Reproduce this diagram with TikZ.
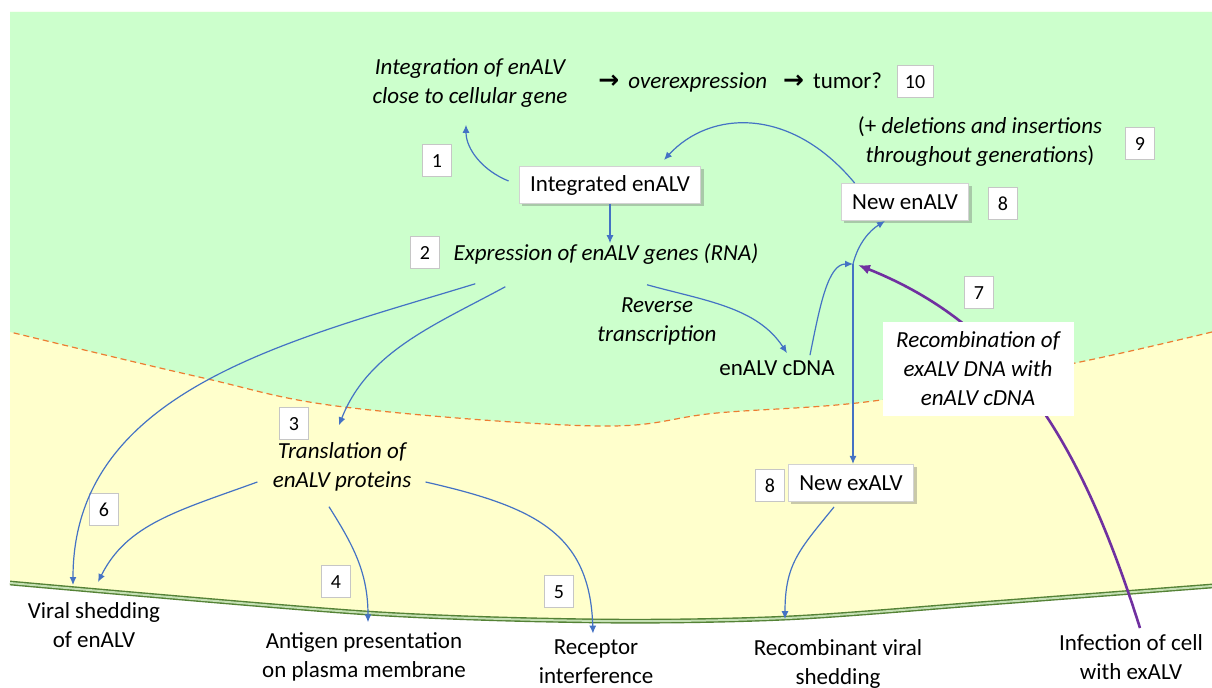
\documentclass[tikz,border=0pt]{standalone}
\usepackage{fontspec}
\setmainfont{Carlito}
\newfontfamily\dej{DejaVu Sans}
\usetikzlibrary{arrows.meta,shadows}
\definecolor{bgGreen}{RGB}{204,255,204}
\definecolor{bgYellow}{RGB}{255,255,204}
\definecolor{arrBlue}{RGB}{68,114,196}
\definecolor{dashOr}{RGB}{237,125,49}
\definecolor{memDark}{RGB}{84,130,53}
\definecolor{memLight}{RGB}{197,224,180}
\definecolor{purp}{RGB}{112,48,160}
\begin{document}
\begin{tikzpicture}[x=0.5pt,y=-0.5pt,
  txt/.style={inner sep=0pt, align=center, font=\fontsize{11.5}{14.5}\selectfont},
  itxt/.style={inner sep=0pt, align=center, font=\fontsize{11.5}{14.5}\selectfont\itshape},
  numbox/.style={draw=gray!45, fill=white, line width=0.5pt, minimum width=14.5pt, minimum height=16pt, inner sep=0pt, font=\fontsize{10}{12}\selectfont},
  mainbox/.style={draw=gray!35, fill=white, line width=0.5pt, minimum height=18.5pt, inner xsep=5.5pt, inner ysep=0pt, font=\fontsize{11.5}{14.5}\selectfont, drop shadow={shadow xshift=1.5pt, shadow yshift=-1.5pt, opacity=0.35, fill=black!60}},
  arr/.style={draw=arrBlue, line width=0.6pt, -{Latex[length=4pt,width=3.5pt]}},
]
\useasboundingbox (0,0) rectangle (1212,688);
% backgrounds
\fill[bgYellow] (10,12) -- (1212,12) -- plot[smooth] coordinates {(1212,586) (990,603) (787,618) (600,621) (367,613) (10,583)} -- cycle;
\fill[bgGreen] (10,12) -- (1212,12) -- plot[smooth, tension=0.6] coordinates {(1212,332) (1080,362) (881,400) (717,413) (597,426) (344,407) (199,377) (10,332)} -- cycle;
\draw[dashOr, line width=0.6pt, dash pattern=on 3pt off 2pt] plot[smooth, tension=0.6] coordinates {(1212,332) (1080,362) (881,400) (717,413) (597,426) (344,407) (199,377) (10,332)};
\draw[memDark, line width=0.7pt, double=memLight, double distance=1pt] plot[smooth] coordinates {(10,583) (367,613) (600,621) (787,618) (990,603) (1212,586)};

% nodes
\node[itxt] (intg) at (470,83) {Integration of enALV\\close to cellular gene};
\node[txt, anchor=west] (over) at (598,82) {{\dej\bfseries\fontsize{12.5}{14}\selectfont →}\hspace{4.5pt}\textit{overexpression}\hspace{8pt}{\dej\bfseries\fontsize{12.5}{14}\selectfont →}\hspace{4.5pt}tumor?};
\node[numbox, minimum width=18pt] (n10) at (915,82) {10};
\node[txt] (del) at (980,142) {(+ \textit{deletions and insertions}\\\textit{throughout generations})};
\node[numbox] (n9) at (1140,144) {9};
\node[mainbox] (newen) at (905,202) {New enALV};
\node[numbox] (n8a) at (1003,204) {8};
\node[mainbox] (integ) at (610,185) {Integrated enALV};
\node[numbox] (n1) at (437,161) {1};
\node[numbox] (n2) at (425,253) {2};
\node[itxt] (expr) at (606,254) {Expression of enALV genes (RNA)};
\node[itxt] (rev) at (657,321) {Reverse\\transcription};
\node[txt] (cdna) at (777,368) {enALV cDNA};
\node[numbox] (n7) at (979,293) {7};
\node[numbox] (n8b) at (770,486) {8};
\node[mainbox] (newex) at (851,483) {New exALV};
\node[numbox] (n3) at (294,424) {3};
\node[itxt] (transl) at (342,467) {Translation of\\enALV proteins};
\node[numbox] (n6) at (104,510) {6};
\node[numbox] (n4) at (336,582) {4};
\node[numbox] (n5) at (559,592) {5};
\node[txt] (viral) at (94,625) {Viral shedding\\of enALV};
\node[txt] (antigen) at (364,657) {Antigen presentation\\on plasma membrane};
\node[txt] (recep) at (596,662) {Receptor\\interference};
\node[txt] (recsh) at (838,664) {Recombinant viral\\shedding};
\node[txt] (infect) at (1131,657) {Infection of cell\\with exALV};
\coordinate (J) at (853,264);

% purple infection arrow (behind recombination box)
\draw[purp, line width=1.3pt, -{Latex[length=6pt,width=5pt]}] ([shift={(9,-6)}]infect.north) .. controls +(-60,-190) and +(150,60) .. ([shift={(5,1)}]J);
\node[fill=white, inner sep=0pt, minimum width=95.5pt, minimum height=47pt, align=center, font=\fontsize{11.5}{14.5}\selectfont\itshape] (recomb) at (978,369) {Recombination of\\exALV DNA with\\enALV cDNA};

% blue arrows
\draw[arr] ([shift={(-10,-4)}]integ.west) .. controls +(-25,-10) and +(0,25) .. ([shift={(-4,17)}]intg.south);
\draw[arr] (integ.south) -- (integ.south |- expr.north);
\draw[arr] ([xshift=7pt]newen.north west) .. controls +(-64,-77) and +(46,-50) .. ([shift={(54,-6)}]integ.north);
\draw[arr] ([shift={(22,19)}]expr.south west) .. controls +(-186,57) and +(0,-195) .. ([shift={(-21,-17)}]viral.north);
\draw[arr] ([shift={(52,22)}]expr.south west) .. controls +(-70,38) and +(29,-74) .. ([shift={(-3,-17)}]transl.north);
\draw[arr] ([shift={(41,20)}]expr.south) .. controls +(58,16) and +(-30,-46) .. ([shift={(10,-7)}]cdna.north);
\draw[arr] ([shift={(33,-5)}]cdna.north) .. controls +(10,-50) and +(-25,0) .. (J);
\draw[arr] (J) .. controls +(5,-20) and +(-16,10) .. ([xshift=-10pt]newen.south);
\draw[arr] (J) -- (J |- newex.north);
\draw[arr] ([shift={(-17,5)}]newex.south) .. controls +(-35,43) and +(0,-55) .. ([shift={(-53,-20)}]recsh.north);
\draw[arr] ([shift={(-15,15)}]transl.west) .. controls +(-80,29) and +(29,-58) .. ([shift={(4,-20)}]viral.north);
\draw[arr] ([shift={(-13,15)}]transl.south) .. controls +(24,38) and +(0,-50) .. ([shift={(4,-10)}]antigen.north);
\draw[arr] ([shift={(14,15)}]transl.east) .. controls +(110,25) and +(-3,-100) .. ([shift={(-3,-6)}]recep.north);
\end{tikzpicture}
\end{document}
